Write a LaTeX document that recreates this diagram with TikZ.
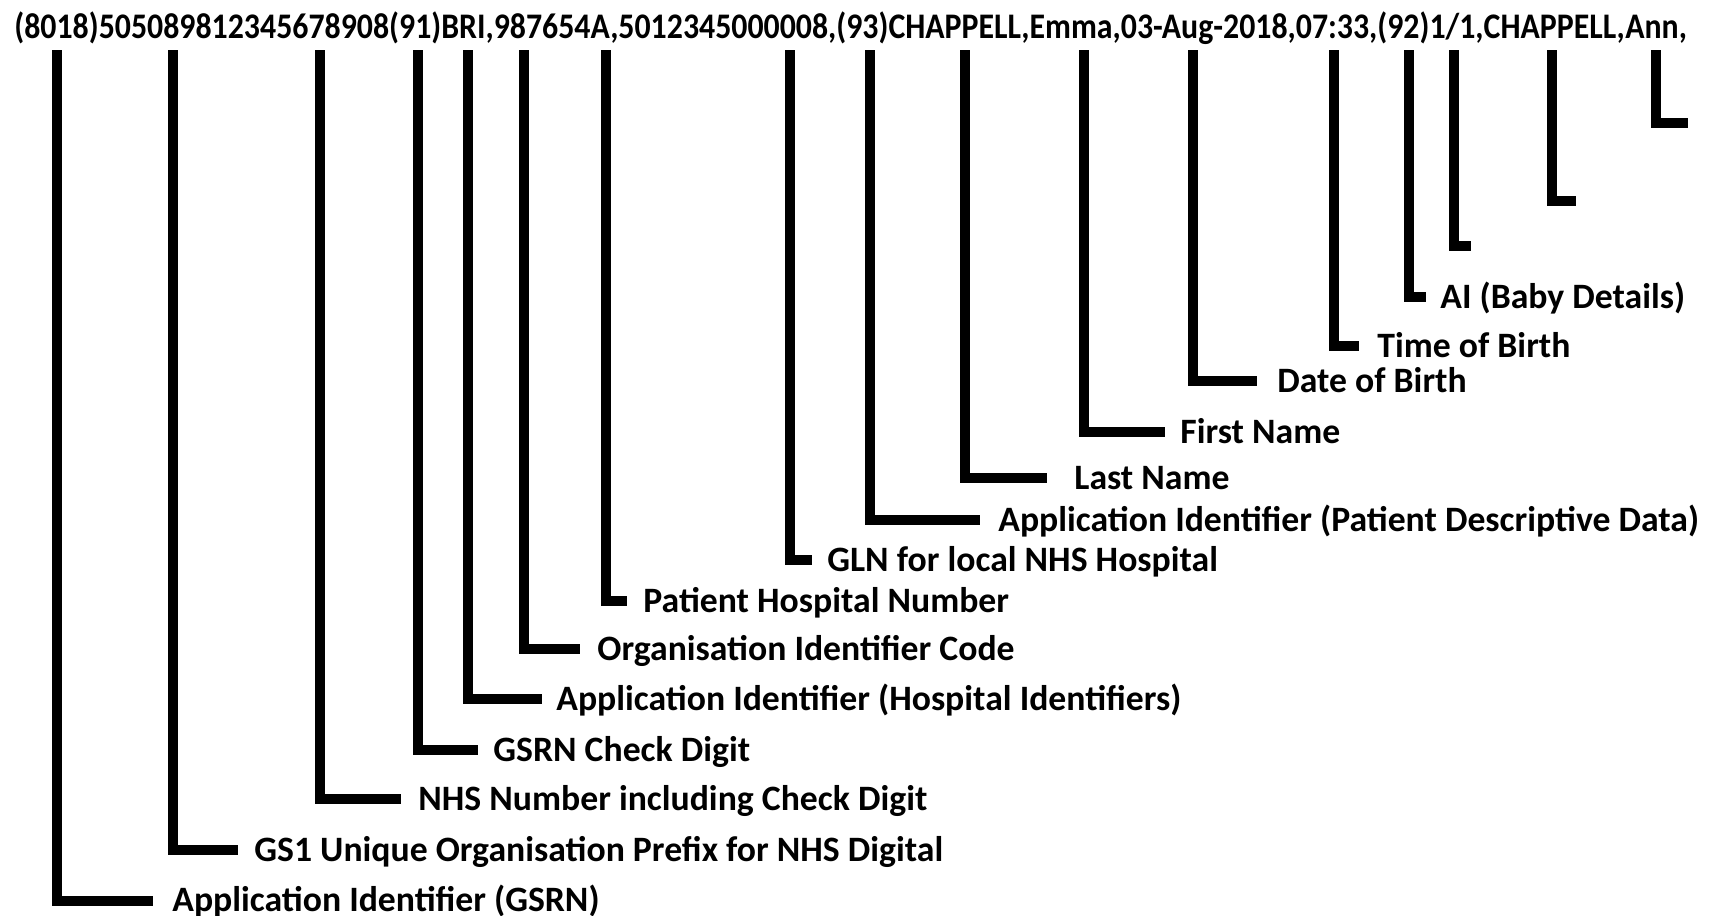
\documentclass[tikz,border=0pt]{standalone}
\usepackage{fontspec}
\setmainfont{Carlito}
\begin{document}
\begin{tikzpicture}[x=0.5pt,y=-0.5pt,
  conn/.style={line width=5pt,line join=miter,line cap=butt},
  lbl/.style={anchor=west,inner sep=0pt,font=\fontsize{17.85}{21}\selectfont\bfseries,text height=11pt,text depth=0pt}]
\useasboundingbox (0,0) rectangle (1710,916);
\node[anchor=base west,inner sep=0pt,font=\fontsize{18}{21}\selectfont\bfseries] (code) at (14,38) {\resizebox{836pt}{\height}{(8018)505089812345678908(91)BRI,987654A,5012345000008,(93)CHAPPELL,Emma,03-Aug-2018,07:33,(92)1/1,CHAPPELL,Ann,}};
% top coordinates
\foreach \n/\x in {1/57,2/173,3/320,4/418,5/468,6/524,7/606,8/790,9/870,10/965,11/1084,12/1193,13/1334,14/1409,15/1454,16/1552,17/1656}
  \coordinate (t\n) at (\x,50);
% bar ends
\coordinate (e1) at (153,901);
\coordinate (e2) at (238,850);
\coordinate (e3) at (401,799);
\coordinate (e4) at (478,750);
\coordinate (e5) at (542,699);
\coordinate (e6) at (580,649);
\coordinate (e7) at (627,601);
\coordinate (e8) at (812,560);
\coordinate (e9) at (980,520);
\coordinate (e10) at (1047,478);
\coordinate (e11) at (1165,432);
\coordinate (e12) at (1257,381);
\coordinate (e13) at (1359,346);
\coordinate (e14) at (1426,297);
\coordinate (e15) at (1471,246);
\coordinate (e16) at (1576,201);
\coordinate (e17) at (1688,123);
% labels
\node[lbl] (l1) at (172,900) {Application Identifier (GSRN)};
\node[lbl] (l2) at (254,850) {GS1 Unique Organisation Prefix for NHS Digital};
\node[lbl] (l3) at (418,799) {NHS Number including Check Digit};
\node[lbl] (l4) at (493,750) {GSRN Check Digit};
\node[lbl] (l5) at (556,699) {Application Identifier (Hospital Identifiers)};
\node[lbl] (l6) at (597,649) {Organisation Identifier Code};
\node[lbl] (l7) at (643,601) {Patient Hospital Number};
\node[lbl] (l8) at (827,560) {GLN for local NHS Hospital};
\node[lbl] (l9) at (998,520) {Application Identifier (Patient Descriptive Data)};
\node[lbl] (l10) at (1074,478) {Last Name};
\node[lbl] (l11) at (1180,432) {First Name};
\node[lbl] (l12) at (1277,381) {Date of Birth};
\node[lbl] (l13) at (1377,346) {Time of Birth};
\node[lbl] (l14) at (1440,297) {AI (Baby Details)};
% connectors
\foreach \n in {1,...,17}
  \draw[conn] (t\n) |- (e\n);
\end{tikzpicture}
\end{document}
